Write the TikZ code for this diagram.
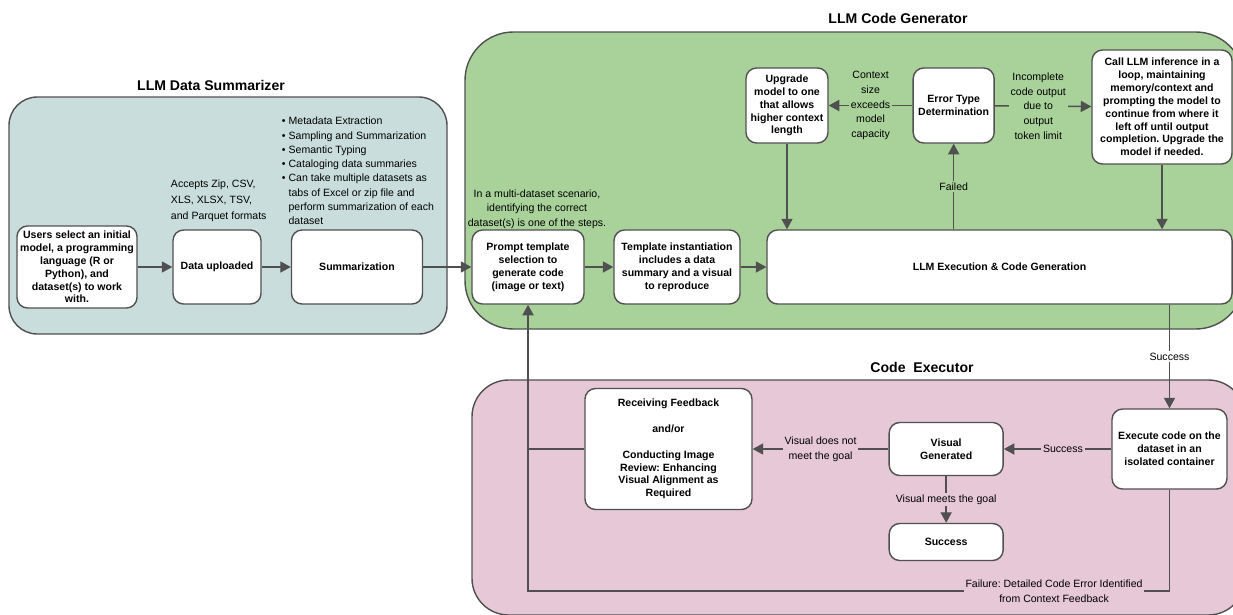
\documentclass[tikz,border=0pt]{standalone}
\usepackage{fontspec}
\setmainfont{Liberation Sans}
\usetikzlibrary{arrows.meta, positioning}
\definecolor{sumfill}{HTML}{C9DEDC}
\definecolor{genfill}{HTML}{A9D29B}
\definecolor{exefill}{HTML}{E6C8D6}
\definecolor{linegray}{HTML}{505050}
\frenchspacing

\begin{document}
\begin{tikzpicture}[
    x=0.03cm, y=-0.03cm,
    on grid,
    >={Triangle[length=9pt, width=9.5pt]},
    panel/.style={draw=linegray, line width=1.2pt},
    stage/.style={draw=linegray, line width=1.2pt, fill=white, rounded corners=9pt, align=center, inner sep=2pt, font=\fontsize{9}{11}\selectfont\bfseries},
    title/.style={font=\fontsize{12}{14}\selectfont\bfseries},
    note/.style={align=center, inner sep=1.5pt, font=\fontsize{9}{12.5}\selectfont},
    flow/.style={->, draw=linegray, line width=1.2pt},
    every edge/.append style={draw=linegray, line width=1.2pt}
]

   \useasboundingbox (0,0) rectangle (1233,614);
   \clip (0,0) rectangle (1233,614);

   % Panels
   \draw[panel, fill=sumfill, rounded corners=0.85cm] (9,97) rectangle (447,334);
   \draw[panel, fill=genfill, rounded corners=1.45cm] (465,32) rectangle (1244,329);
   \draw[panel, fill=exefill, rounded corners=1.1cm] (472,380) rectangle (1245,615);

   \node[title] (tsum) at (211,85) {LLM Data Summarizer};
   \node[title] (tgen) at (898,18) {LLM Code Generator};
   \node[title] (texe) at (922,367) {Code\ \ Executor};

   % Data summarizer
   \node[stage, minimum width=3.6cm, minimum height=2.46cm] (users) at (77,267) {Users select an initial\\model, a programming\\language (R or\\Python), and\\dataset(s) to work\\with.};
   \node[stage, minimum width=2.64cm, minimum height=2.22cm] (data) [right=4.2cm of users] {Data uploaded};
   \node[stage, minimum width=3.93cm, minimum height=2.22cm] (summ) [right=4.2cm of data] {Summarization};

   \node[note, anchor=west, align=left, font=\fontsize{9}{13.5}\selectfont] (formats) at (169,201) {Accepts Zip, CSV,\\XLS, XLSX, TSV,\\and Parquet formats};
   \node[note, anchor=west, align=left, font=\fontsize{9}{12.2}\selectfont] (steps) at (280,171) {\textbullet\ Metadata Extraction\\\textbullet\ Sampling and Summarization\\\textbullet\ Semantic Typing\\\textbullet\ Cataloging data summaries\\\textbullet\ Can take multiple datasets as\\\phantom{\textbullet\ }tabs of Excel or zip file and\\\phantom{\textbullet\ }perform summarization of each\\\phantom{\textbullet\ }dataset};

   % Code generator
   \node[stage, minimum width=3.36cm, minimum height=2.22cm] (prompt) [right=5.13cm of summ] {Prompt template\\selection to\\generate code\\(image or text)};
   \node[stage, minimum width=3.78cm, minimum height=2.22cm] (template) [right=4.47cm of prompt] {Template instantiation\\includes a data\\summary and a visual\\to reproduce};
   \node[stage, minimum width=13.95cm, minimum height=2.22cm] (exec) [right=9.675cm of template] {LLM Execution \& Code Generation};
   \node[stage, minimum width=2.46cm, minimum height=2.25cm] (upgrade) at (787,105.5) {Upgrade\\model to one\\that allows\\higher context\\length};
   \node[stage, minimum width=2.43cm, minimum height=2.25cm] (error) [right=5cm of upgrade] {Error Type\\Determination};
   \node[stage, minimum width=4.2cm, minimum height=3.42cm] (call) at (1162,107) {Call LLM inference in a\\loop, maintaining\\memory/context and\\prompting the model to\\continue from where it\\left off until output\\completion. Upgrade the\\model if needed.};

   \node[note] (multi) at (537,209) {In a multi-dataset scenario,\\identifying the correct\\dataset(s) is one of the steps.};

   % Code executor
   \node[stage, minimum width=3.45cm, minimum height=2.4cm] (execute) at (1169.5,449) {Execute code on the\\dataset in an\\isolated container};
   \node[stage, minimum width=3.42cm, minimum height=1.59cm] (visual) [left=6.7cm of execute] {Visual\\Generated};
   \node[stage, minimum width=3.42cm, minimum height=1.11cm] (success) [below=2.79cm of visual] {Success};
   \node[stage, minimum width=5.01cm, minimum height=3.63cm] (receiving) [left=8.33cm of visual] {Receiving Feedback\\[11pt]and/or\\[11pt]Conducting Image\\Review: Enhancing\\Visual Alignment as\\Required};

   % Connectors
   \path[->]
   (users) edge (data)
   (data) edge (summ)
   (summ) edge (prompt)
   (prompt) edge (template)
   (template) edge (exec)

   (error) edge node[note, fill=genfill] {Context\\size\\exceeds\\model\\capacity} (upgrade)
           edge node[note, fill=genfill, pos=0.45] {Incomplete\\code output\\due to\\output\\token limit} (call)
   (exec.north -| error.south) edge node[note, fill=genfill] {Failed} (error.south)
   (upgrade) edge (upgrade.south |- exec.north)
   (call) edge (call.south |- exec.north)

   (exec.south -| execute.north) edge node[note, fill=white] {Success} (execute)
   (execute) edge node[note, fill=exefill, pos=0.45] {Success} (visual)
   (visual) edge node[note, fill=exefill] {Visual does not\\meet the goal} (receiving)
            edge node[note, fill=exefill] {Visual meets the goal} (success);

   % Failure loop back to the prompt
   \coordinate (fail) at (execute.south |- 0,591);
   \draw[flow] (execute.south) -- (fail)
       -- node[note, fill=exefill, pos=0.18] {Failure: Detailed Code Error Identified\\from Context Feedback} (fail -| prompt.south)
       -- (prompt.south);
   \draw[draw=linegray, line width=1.2pt] (receiving.west) -- (receiving.west -| prompt.south);
\end{tikzpicture}
\end{document}
